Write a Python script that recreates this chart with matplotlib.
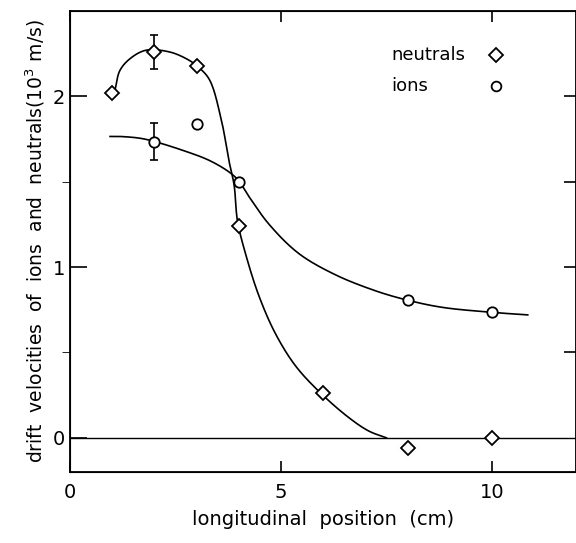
import numpy as np
import matplotlib.pyplot as plt

plt.rcParams['font.family'] = ['Liberation Sans Narrow', 'DejaVu Sans']

# measured points
neutral_x = [1, 2, 3, 4, 6, 8, 10]
neutral_y = [2.02, 2.26, 2.18, 1.24, 0.26, -0.06, 0.0]
ion_x = [2, 3, 4, 8, 10]
ion_y = [1.735, 1.84, 1.50, 0.81, 0.735]

# error bars (at x = 2)
neutral_err_x = [2]
neutral_err_y = [2.26]
neutral_err = [0.10]
ion_err_x = [2]
ion_err_y = [1.735]
ion_err = [0.11]

# hand-drawn fit curves
neutral_fit_x = [1.07, 1.18, 1.42, 1.8, 2.36, 2.76, 3.0, 3.3, 3.58, 3.77, 3.89,
                 3.97, 4.17, 4.48, 4.87, 5.35, 5.95, 6.6, 7.08, 7.5]
neutral_fit_y = [2.04, 2.15, 2.22, 2.27, 2.26, 2.22, 2.18, 2.10, 1.87, 1.62, 1.48,
                 1.27, 1.07, 0.83, 0.61, 0.42, 0.26, 0.12, 0.04, 0.0]
ion_fit_x = [0.95, 1.18, 1.65, 1.98, 2.67, 3.30, 3.77, 3.99, 4.25, 4.72, 5.42,
             6.29, 7.23, 7.94, 8.8, 10.0, 10.85]
ion_fit_y = [1.765, 1.765, 1.755, 1.737, 1.684, 1.625, 1.557, 1.508, 1.41, 1.25,
             1.08, 0.955, 0.862, 0.81, 0.765, 0.735, 0.72]


def smooth(xs, ys, n=25):
    # centripetal Catmull-Rom through the read points (in pixel-like units)
    sx, sy = 42.4, 170.0
    P = np.column_stack([np.array(xs) * sx, np.array(ys) * sy])
    P = np.vstack([2 * P[0] - P[1], P, 2 * P[-1] - P[-2]])
    out = []
    for i in range(1, len(P) - 2):
        p0, p1, p2, p3 = P[i - 1], P[i], P[i + 1], P[i + 2]
        t0 = 0.0
        t1 = t0 + np.linalg.norm(p1 - p0) ** 0.5
        t2 = t1 + np.linalg.norm(p2 - p1) ** 0.5
        t3 = t2 + np.linalg.norm(p3 - p2) ** 0.5
        t = np.linspace(t1, t2, n)[:, None]
        a1 = (t1 - t) / (t1 - t0) * p0 + (t - t0) / (t1 - t0) * p1
        a2 = (t2 - t) / (t2 - t1) * p1 + (t - t1) / (t2 - t1) * p2
        a3 = (t3 - t) / (t3 - t2) * p2 + (t - t2) / (t3 - t2) * p3
        b1 = (t2 - t) / (t2 - t0) * a1 + (t - t0) / (t2 - t0) * a2
        b2 = (t3 - t) / (t3 - t1) * a2 + (t - t1) / (t3 - t1) * a3
        c = (t2 - t) / (t2 - t1) * b1 + (t - t1) / (t2 - t1) * b2
        out.append(c)
    out = np.vstack(out)
    return out[:, 0] / sx, out[:, 1] / sy


fig = plt.figure(figsize=(5.76, 5.43), dpi=100)
ax = fig.add_axes([0.1215, 0.1308, 0.879, 0.849])

ax.axhline(0, color='black', lw=1.0)
ax.plot(*smooth(neutral_fit_x, neutral_fit_y), color='black', lw=1.2)
ax.plot(*smooth(ion_fit_x, ion_fit_y), color='black', lw=1.2)

ax.errorbar(neutral_err_x, neutral_err_y, yerr=neutral_err, fmt='none',
            ecolor='black', elinewidth=1.2, capsize=3, capthick=1.2)
ax.errorbar(ion_err_x, ion_err_y, yerr=ion_err, fmt='none',
            ecolor='black', elinewidth=1.2, capsize=3, capthick=1.2)

ax.plot(neutral_x, neutral_y, 'D', ms=7.5, mfc='white', mec='black', mew=1.3,
        linestyle='none', zorder=5)
ax.plot(ion_x, ion_y, 'o', ms=7.5, mfc='white', mec='black', mew=1.3,
        linestyle='none', zorder=5)

# legend drawn as text + markers
ax.text(7.62, 2.24, 'neutrals', fontsize=13, va='center', ha='left')
ax.text(7.62, 2.06, 'ions', fontsize=13, va='center', ha='left')
ax.plot([10.1], [2.24], 'D', ms=7, mfc='white', mec='black', mew=1.3)
ax.plot([10.1], [2.06], 'o', ms=7, mfc='white', mec='black', mew=1.3)

ax.set_xlim(0, 12)
ax.set_ylim(-0.2, 2.5)
ax.set_xticks([0, 5, 10])
ax.set_yticks([0, 1, 2])
ax.set_yticks([0.5, 1.5], minor=True)
ax.tick_params(axis='both', direction='in', labelsize=14, width=1.2)
ax.tick_params(axis='y', which='major', length=12, left=True, right=False)
ax.tick_params(axis='y', which='minor', length=6, left=True, right=False)
ax.tick_params(axis='x', which='major', length=8, top=True, pad=8)

ax2 = ax.twinx()
ax2.set_ylim(-0.2, 2.5)
ax2.set_yticks([0.5, 1, 1.5, 2])
ax2.tick_params(axis='y', direction='in', length=9, width=1.2, labelright=False)

for s in ax.spines.values():
    s.set_linewidth(1.3)

ax.set_xlabel('longitudinal  position  (cm)', fontsize=14, labelpad=6)
ax.set_ylabel('drift  velocities  of  ions  and  neutrals(10$^3$ m/s)',
              fontsize=13.5, labelpad=4)

fig.savefig('out.png', dpi=100)
